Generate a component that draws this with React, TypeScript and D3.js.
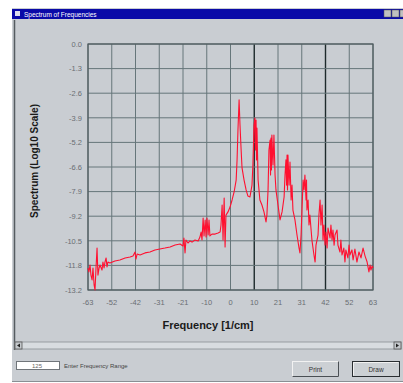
import React from "react";
import * as d3 from "d3";

const freq = [
  -63.0, -62.6, -62.1, -61.7, -61.2, -60.8, -60.3, -59.9, -59.5, -59.0, -58.8, -58.6, -58.1, -57.7,
  -56.8, -56.4, -55.9, -55.5, -55.0, -54.6, -54.2, -53.3, -51.1, -48.9, -46.6, -44.4, -43.1, -42.2,
  -41.8, -41.3, -40.0, -37.8, -35.6, -33.4, -31.2, -29.0, -26.7, -24.5, -22.3, -21.0, -20.6, -20.1,
  -19.7, -18.8, -17.9, -17.0, -15.7, -14.3, -13.5, -13.0, -12.6, -12.1, -11.7, -11.2, -10.8, -10.4,
  -9.9, -9.5, -9.1, -8.2, -6.8, -5.5, -4.6, -4.2, -3.7, -3.3, -2.8, -2.4, -2.0, -1.1, -0.2, 0.7,
  1.6, 2.5, 2.9, 3.3, 3.8, 4.2, 4.7, 5.1, 6.0, 6.9, 7.7, 8.6, 9.5, 9.9, 10.4, 10.8, 11.0, 11.3,
  11.5, 11.7, 12.2, 13.0, 13.9, 14.8, 15.7, 16.1, 16.6, 17.0, 17.5, 17.7, 17.9, 18.1, 18.3, 18.8,
  19.2, 19.7, 20.1, 21.0, 21.9, 22.8, 23.7, 24.1, 24.5, 24.8, 25.0, 25.2, 25.4, 25.9, 26.3, 26.8,
  27.2, 27.6, 28.5, 29.4, 30.3, 30.7, 31.2, 31.6, 32.1, 32.5, 32.9, 33.4, 33.6, 33.8, 34.3, 34.7,
  35.1, 36.0, 36.9, 37.4, 37.8, 38.7, 39.1, 39.6, 40.0, 40.5, 40.9, 41.3, 41.8, 42.2, 42.7, 43.1,
  44.0, 44.4, 44.9, 45.3, 45.8, 46.2, 47.1, 47.5, 48.4, 48.8, 49.3, 50.1, 50.6, 51.0, 51.9, 52.4,
  52.8, 53.7, 54.2, 55.0, 55.9, 56.8, 57.7, 58.6, 59.5, 60.4, 61.2, 61.7, 62.1, 62.6, 63.0,
];

const spectrum = [
  -12.02, -12.23, -11.86, -12.40, -12.66, -12.02, -12.93, -13.2, -12.13, -10.95, -11.7, -12.4, -12.02, -11.86,
  -12.13, -11.7, -12.02, -11.7, -11.48, -11.96, -11.7, -11.75, -11.64, -11.59, -11.48, -11.43, -11.38, -11.16,
  -11.54, -11.27, -11.32, -11.21, -11.16, -11.05, -11.0, -10.95, -10.89, -10.79, -10.73, -10.84, -10.41, -11.21,
  -10.52, -10.68, -10.57, -10.63, -10.52, -10.57, -10.36, -10.09, -10.52, -9.34, -10.3, -9.44, -10.36, -9.34,
  -10.25, -9.44, -10.3, -10.2, -10.2, -10.14, -10.09, -9.71, -8.64, -10.52, -8.26, -10.89, -9.18, -9.01, -8.75, -8.37,
  -7.94, -7.3, -6.22, -4.61, -3.0, -4.35, -5.69, -6.65, -7.3, -7.83, -8.16, -8.21, -7.57, -6.49, -4.35, -3.97, -5.69, -4.08,
  -6.22, -4.51, -7.3, -8.37, -8.64, -9.01, -9.55, -9.18, -7.83, -5.69, -5.15, -7.03, -5.04, -6.76, -4.88, -6.49,
  -4.88, -7.03, -7.83, -8.64, -9.44, -9.01, -8.21, -7.03, -6.22, -7.57, -5.96, -7.83, -5.96, -7.57, -6.33, -8.37,
  -7.57, -8.91, -9.44, -10.25, -10.95, -11.21, -10.25, -8.91, -7.3, -7.83, -7.03, -8.37, -7.3, -8.91, -8.37, -9.71,
  -9.18, -10.52, -11.32, -11.7, -10.79, -10.25, -9.18, -8.37, -9.71, -8.64, -10.52, -9.71, -10.79, -10.09, -10.95, -9.87,
  -10.41, -9.71, -10.52, -9.98, -10.79, -10.25, -9.98, -10.79, -11.16, -10.52, -11.32, -10.95, -11.7, -11.05, -11.48, -10.79,
  -11.32, -11.05, -11.59, -11.0, -11.7, -11.16, -11.48, -10.95, -11.38, -11.7, -12.23, -11.86, -12.13, -11.92, -12.02,
];

const xTicks = [-63, -52.5, -42, -31.5, -21, -10.5, 0, 10.5, 21, 31.5, 42, 52.5, 63];
const xTickLabels = ["-63", "-52", "-42", "-31", "-21", "-10", "0", "10", "21", "31", "42", "52", "63"];
const yTicks = [0, -1.32, -2.64, -3.96, -5.28, -6.6, -7.92, -9.24, -10.56, -11.88, -13.2];
const yTickLabels = ["0.0", "-1.3", "-2.6", "-3.9", "-5.2", "-6.6", "-7.9", "-9.2", "-10.5", "-11.8", "-13.2"];
const markerLines = [10.5, 42];

const W = 403;
const H = 383;
const BG = "#c9cdd2";

export default function App() {
  const x = d3.scaleLinear().domain([-63, 63]).range([88, 373]);
  const y = d3.scaleLinear().domain([0, -13.2]).range([44, 290]);
  const pts: [number, number][] = freq.map((f, i) => [f, spectrum[i]]);
  const line = d3
    .line<[number, number]>()
    .x((d) => x(d[0]))
    .y((d) => y(d[1]));
  const font = "'Liberation Sans', Arial, sans-serif";

  return (
    <div style={{ position: "fixed", left: 0, top: 0 }}>
      <svg width={W} height={H} style={{ display: "block" }}>
        <rect x={0} y={0} width={W} height={H} fill="#ffffff" />
        {/* window body */}
        <rect x={12} y={8} width={W - 12} height={374} fill={BG} />
        {/* title bar */}
        <rect x={12} y={9} width={W - 12} height={10} fill="#0a0aa8" />
        <rect x={15} y={11} width={5} height={5} fill="#dde" />
        <text x={24} y={17} fontSize={6.5} fill="#ffffff" fontFamily={font}>
          Spectrum of Frequencies
        </text>
        <rect x={384} y={10} width={7} height={7} fill="#c0c0c0" stroke="#555" strokeWidth={0.5} />
        <rect x={392} y={10} width={7} height={7} fill="#c0c0c0" stroke="#555" strokeWidth={0.5} />
        <rect x={400} y={10} width={7} height={7} fill="#c0c0c0" stroke="#555" strokeWidth={0.5} />
        {/* left border */}
        <line x1={14.5} y1={20} x2={14.5} y2={350} stroke="#555b60" strokeWidth={1.5} />
        {/* bottom border */}
        <line x1={12} y1={381.5} x2={W} y2={381.5} stroke="#8a8f94" strokeWidth={1} />

        {/* grid */}
        {xTicks.map((t, i) => (
          <line
            key={"gx" + i}
            x1={x(t)}
            x2={x(t)}
            y1={y(0)}
            y2={y(-13.2)}
            stroke={markerLines.includes(t) ? "#1e2a2c" : "#66767a"}
            strokeWidth={markerLines.includes(t) ? 1.4 : 1}
          />
        ))}
        {yTicks.map((t, i) => (
          <line
            key={"gy" + i}
            x1={x(-63)}
            x2={x(63)}
            y1={y(t)}
            y2={y(t)}
            stroke="#66767a"
            strokeWidth={1}
          />
        ))}
        <rect
          x={x(-63)}
          y={y(0)}
          width={x(63) - x(-63)}
          height={y(-13.2) - y(0)}
          fill="none"
          stroke="#4e5a5e"
          strokeWidth={1.2}
        />
        {/* data */}
        <path d={line(pts) || ""} fill="none" stroke="#ff1030" strokeWidth={1.1} strokeLinejoin="round" />

        {/* tick labels */}
        {yTicks.map((t, i) => (
          <text
            key={"yl" + i}
            x={82}
            y={y(t) + 2.8}
            textAnchor="end"
            fontSize={7.5}
            fill="#6a6e72"
            fontFamily={font}
          >
            {yTickLabels[i]}
          </text>
        ))}
        {xTicks.map((t, i) => (
          <text
            key={"xl" + i}
            x={x(t)}
            y={305}
            textAnchor="middle"
            fontSize={7.5}
            fill="#6a6e72"
            fontFamily={font}
          >
            {xTickLabels[i]}
          </text>
        ))}
        {/* axis titles */}
        <text
          transform="translate(38,161) rotate(-90)"
          textAnchor="middle"
          fontSize={10}
          fontWeight="bold"
          fill="#1a1a1a"
          fontFamily={font}
        >
          Spectrum (Log10 Scale)
        </text>
        <text x={208} y={329} textAnchor="middle" fontSize={11} fill="#1a1a1a" fontFamily={font} fontWeight={600}>
          Frequency [1/cm]
        </text>

        {/* scrollbar */}
        <rect x={15} y={342} width={386} height={7} fill="#d8dce0" stroke="#8a8f94" strokeWidth={0.8} />
        <rect x={15} y={342} width={7} height={7} fill="#c4c8cc" stroke="#555" strokeWidth={0.8} />
        <path d="M20,343.5 L17,345.5 L20,347.5 Z" fill="#222" />
        <rect x={394} y={342} width={7} height={7} fill="#c4c8cc" stroke="#555" strokeWidth={0.8} />
        <path d="M396,343.5 L399,345.5 L396,347.5 Z" fill="#222" />

        {/* bottom controls */}
        <rect x={16.5} y={361.5} width={43} height={8} fill="#ffffff" stroke="#70757a" strokeWidth={1} />
        <text x={37} y={368} textAnchor="middle" fontSize={6} fill="#666" fontFamily={font}>
          125
        </text>
        <text x={64} y={368} fontSize={6} fill="#444" fontFamily={font}>
          Enter Frequency Range
        </text>
        <rect x={292.5} y={361.5} width={46} height={15} fill="#ccd0d4" stroke="#f2f2f2" strokeWidth={1} />
        <path d="M292.5,376.5 H338.5 V361.5" fill="none" stroke="#4a4f54" strokeWidth={1} />
        <text x={315.5} y={371.5} textAnchor="middle" fontSize={6.5} fill="#333" fontFamily={font}>
          Print
        </text>
        <rect x={352.5} y={361.5} width={47} height={15} fill="#ccd0d4" stroke="#2a2e32" strokeWidth={1} />
        <path d="M353.5,375.5 V362.5 H398.5" fill="none" stroke="#f2f2f2" strokeWidth={1} />
        <text x={376} y={371.5} textAnchor="middle" fontSize={6.5} fill="#333" fontFamily={font}>
          Draw
        </text>
      </svg>
    </div>
  );
}
